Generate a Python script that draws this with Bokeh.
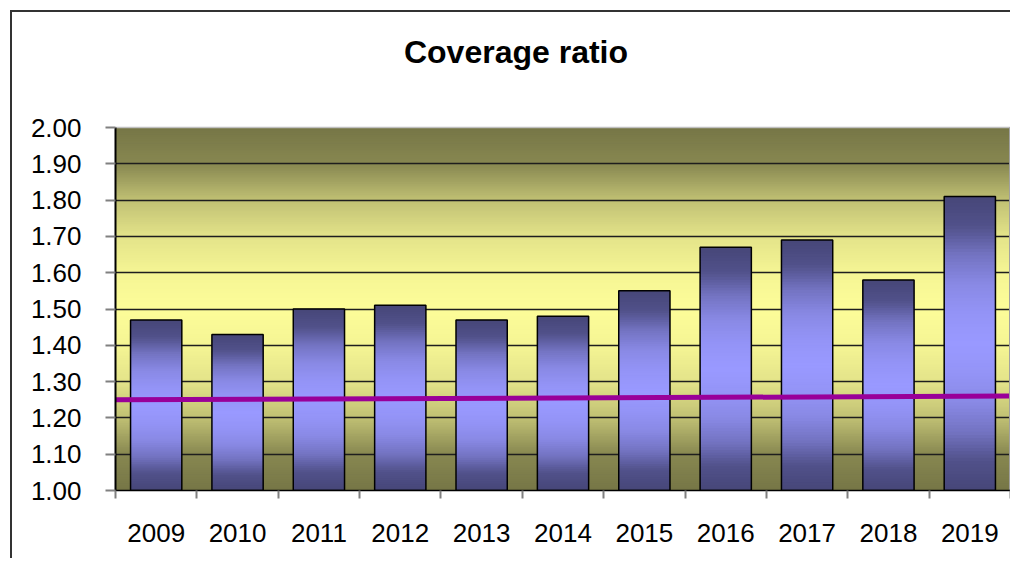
import numpy as np
from bokeh.plotting import figure
from bokeh.models import FixedTicker, NumeralTickFormatter, Range1d, Spacer, ColumnDataSource, Label
from bokeh.layouts import column, row
from bokeh.embed import file_html
from bokeh.resources import INLINE

# ---------------- data ----------------
years = ["2009", "2010", "2011", "2012", "2013", "2014", "2015", "2016", "2017", "2018", "2019"]
coverage = [1.47, 1.43, 1.50, 1.51, 1.47, 1.48, 1.55, 1.67, 1.69, 1.58, 1.81]
threshold_start = 1.25
threshold_end = 1.26
y_ticks = [1.00, 1.10, 1.20, 1.30, 1.40, 1.50, 1.60, 1.70, 1.80, 1.90, 2.00]
chart_title = "Coverage ratio"

Y_MIN, Y_MAX = 1.0, 2.0
N = len(years)
FONT = "Liberation Sans"

# ---------------- layout constants (pixels) ----------------
CW, CH = 998, 546             # canvas size (placed at page x=12, y=12)
B_LEFT, B_RIGHT, B_TOP, B_BOTTOM = 103, 0, 2, 68
PLOT_TOP_PX = 115             # canvas y of the value 2.00
frame_h = CH - B_TOP - B_BOTTOM
px_per_unit = (CH - B_BOTTOM - PLOT_TOP_PX) / (Y_MAX - Y_MIN)
y_end = Y_MIN + frame_h / px_per_unit

# ---------------- gradient helpers ----------------
prof_s = [0.0, 0.2, 0.4, 0.6, 0.8, 1.0]
prof_f = [0.0, 0.13, 0.55, 0.81, 0.94, 1.0]


def mix(c_edge, c_center, s):
    f = float(np.interp(s, prof_s, prof_f))
    r, g, b = [int(round(e + (c - e) * f)) for e, c in zip(c_edge, c_center)]
    return "#%02x%02x%02x" % (r, g, b)


BG_EDGE, BG_CENTER = (118, 118, 70), (253, 253, 153)
BAR_EDGE, BAR_CENTER = (70, 70, 120), (153, 153, 255)

nb = 200
bg_b = np.linspace(Y_MIN, Y_MAX, nb + 1)
bg = dict(left=[], right=[], bottom=[], top=[], color=[])
for i in range(nb):
    lo, hi = bg_b[i], bg_b[i + 1]
    mid = (lo + hi) / 2
    s = 1 - abs(mid - (Y_MIN + Y_MAX) / 2) / ((Y_MAX - Y_MIN) / 2)
    bg["left"].append(0)
    bg["right"].append(N)
    bg["bottom"].append(lo)
    bg["top"].append(min(hi + (hi - lo) * 0.6, Y_MAX))
    bg["color"].append(mix(BG_EDGE, BG_CENTER, s))

BAR_W = 0.63
ns = 90
bars = dict(left=[], right=[], bottom=[], top=[], color=[])
for i, v in enumerate(coverage):
    edges = np.linspace(Y_MIN, v, ns + 1)
    for k in range(ns):
        lo, hi = edges[k], edges[k + 1]
        p_ = ((lo + hi) / 2 - Y_MIN) / (v - Y_MIN)
        s = 1 - abs(p_ - 0.5) * 2
        bars["left"].append(i + 0.5 - BAR_W / 2)
        bars["right"].append(i + 0.5 + BAR_W / 2)
        bars["bottom"].append(lo)
        bars["top"].append(min(hi + (hi - lo) * 0.6, v))
        bars["color"].append(mix(BAR_EDGE, BAR_CENTER, s))

# ---------------- figure ----------------
p = figure(width=CW, height=CH, output_backend="svg", toolbar_location=None,
           x_range=Range1d(0, N), y_range=Range1d(Y_MIN, y_end),
           min_border_left=B_LEFT, min_border_right=B_RIGHT,
           min_border_top=B_TOP, min_border_bottom=B_BOTTOM)
p.background_fill_color = "white"
p.border_fill_color = "white"
p.outline_line_color = None

bg_r = p.quad(left="left", right="right", bottom="bottom", top="top", color="color",
              line_color=None, source=ColumnDataSource(bg))
bg_r.level = "image"

p.quad(left="left", right="right", bottom="bottom", top="top", color="color",
       line_color=None, source=ColumnDataSource(bars))

centers = [i + 0.5 for i in range(N)]
p.vbar(x=centers, top=coverage, bottom=Y_MIN, width=BAR_W, fill_color=None,
       line_color="black", line_width=1.5)

p.line(x=[0, N], y=[threshold_start, threshold_end], line_color="#990099", line_width=5)

# plot-area border (top and right, light grey)
p.line(x=[0, N], y=[Y_MAX, Y_MAX], line_color="#c0c0c0", line_width=1.5)
p.line(x=[N, N], y=[Y_MIN, Y_MAX], line_color="#a0a0a0", line_width=3)

p.xgrid.visible = False
p.ygrid.ticker = FixedTicker(ticks=y_ticks[:-1])
p.ygrid.grid_line_color = "#1e1e1e"
p.ygrid.grid_line_width = 1.5

p.yaxis.bounds = (Y_MIN, Y_MAX)
p.yaxis.ticker = FixedTicker(ticks=y_ticks)
p.yaxis.formatter = NumeralTickFormatter(format="0.00")
p.yaxis.major_label_text_font = FONT
p.yaxis.major_label_text_font_size = "26px"
p.yaxis.major_label_text_color = "black"
p.yaxis.axis_line_color = "black"
p.yaxis.axis_line_width = 2
p.yaxis.major_tick_line_color = "#808080"
p.yaxis.major_tick_line_width = 2
p.yaxis.major_tick_in = 0
p.yaxis.major_tick_out = 10
p.yaxis.minor_tick_line_color = None
p.yaxis.major_label_standoff = 24

p.xaxis.ticker = FixedTicker(ticks=centers, minor_ticks=list(range(N + 1)))
p.xaxis.major_label_overrides = {c: y for c, y in zip(centers, years)}
p.xaxis.major_label_text_font = FONT
p.xaxis.major_label_text_font_size = "26px"
p.xaxis.major_label_text_color = "black"
p.xaxis.axis_line_color = "black"
p.xaxis.axis_line_width = 1.5
p.xaxis.major_tick_line_color = None
p.xaxis.minor_tick_line_color = "#808080"
p.xaxis.minor_tick_line_width = 2
p.xaxis.minor_tick_in = 0
p.xaxis.minor_tick_out = 8
p.xaxis.major_tick_out = 8
p.xaxis.major_label_standoff = 25

# title, centred over the whole chart area (page x ~515, y ~51)
frame_w = CW - B_LEFT - B_RIGHT
title_x = (515.5 - 12 - B_LEFT) / frame_w * N
title_y = Y_MAX + (PLOT_TOP_PX - 39) / px_per_unit
p.add_layout(Label(x=title_x, y=title_y, text=chart_title, text_font=FONT,
                   text_font_size="32px", text_font_style="bold", text_color="black",
                   text_align="center", text_baseline="middle"))

edge = "#333333"
top_bar = Spacer(width=CW + 2, height=2, styles={"background-color": edge})
left_bar = Spacer(width=2, height=CH, styles={"background-color": edge})
layout = column(Spacer(height=10),
                row(Spacer(width=10), column(top_bar, row(left_bar, p))))

open("out.html", "w").write(file_html(layout, INLINE))
